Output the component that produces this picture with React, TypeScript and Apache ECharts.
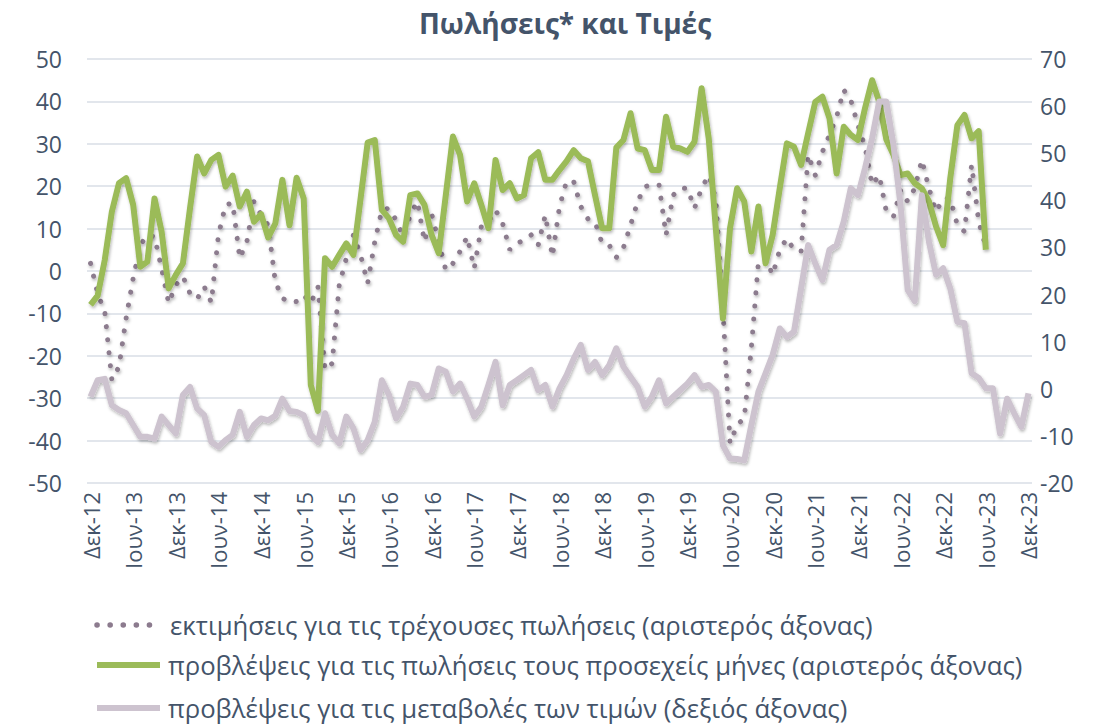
import React, { useEffect, useRef } from "react";
import * as echarts from "echarts";

const TITLE = "Πωλήσεις* και Τιμές";
const MONTHS = ["Ιαν", "Φεβ", "Μαρ", "Απρ", "Μαϊ", "Ιουν", "Ιουλ", "Αυγ", "Σεπ", "Οκτ", "Νοε", "Δεκ"];
const START_MONTH = 11; // Δεκ
const START_YEAR = 12; // 2012
const N_MONTHS = 133; // Δεκ-12 .. Δεκ-23

const NAME_EST = "εκτιμήσεις για τις τρέχουσες πωλήσεις (αριστερός άξονας)";
const NAME_SALES = "προβλέψεις για τις πωλήσεις τους προσεχείς μήνες (αριστερός άξονας)";
const NAME_PRICES = "προβλέψεις για τις μεταβολές των τιμών (δεξιός άξονας)";

// εκτιμήσεις για τις τρέχουσες πωλήσεις (left axis)
const estimates = [
  1.8, -5.3, -9.6, -25.7, -22.6, -11.2, -1.7, 6.1, 8.5, 8.1, 0.6, -7.6,
  -3.3, -1.3, -5.3, -6.6, -3.7, -7.4, 8.5, 15.6, 16, 3, 6.9, 16.4,
  13.2, 10.8, -2.5, -6.4, -7.4, -7.2, -5.7, -7.6, -3.7, -23.3, -21.8, -3.3,
  3, 8.5, 3.8, -2.9, 6.9, 14.4, 14.8, 12, 8.1, 13.2, 16.4, 6.9,
  13.5, 6.9, 0.2, 1.8, 4.6, 8.1, 0.6, 10.5, 11.6, 14.4, 11.2, 5,
  6.5, 7.3, 8.5, 6.1, 13.2, 3.4, 15.2, 21.2, 21.1, 15.2, 12.3, 11.6,
  6.5, 6.1, 3.2, 5.5, 10.8, 16.4, 19.9, 20.3, 20.4, 8.5, 17.9, 19.5,
  19.5, 14.8, 19.5, 22.6, 17, -9, -40.6, -36.3, -34.7, -18.2, 2.2, 3,
  -0.9, 5, 7.7, 5, 4.6, 27.4, 22.6, 28.1, 32.1, 36.4, 42.7, 40.3,
  34.4, 29.3, 20.3, 22.6, 14, 12.8, 19.1, 16.4, 19.5, 26.2, 19.5, 14,
  17.1, 17.1, 10.8, 9.3, 25, 11.6, 5.7,
];

// προβλέψεις για τις πωλήσεις τους προσεχείς μήνες (left axis)
const salesForecast = [
  -8, -5.8, 2.6, 14, 20.7, 21.9, 15.6, 1, 2.2, 17.1, 9.3, -4.1,
  -0.9, 1.8, 14.8, 27, 23, 26.2, 27.4, 19.9, 22.5, 15.2, 18.7, 11.6,
  13.4, 7.9, 11.2, 21.5, 10.8, 22, 17.1, -26.9, -33, 3, 1, 3.8,
  6.5, 3.8, 17, 30.3, 30.9, 14.4, 12.4, 8.5, 6.9, 17.9, 18.3, 15.6,
  8.5, 4.2, 17.9, 31.7, 27.4, 16.4, 20.7, 15.6, 10.1, 26.2, 19.1, 20.7,
  17.1, 17.9, 26.6, 28, 21.5, 21.5, 23.8, 25.9, 28.5, 26.6, 25.9, 17.9,
  10.1, 10.1, 29.1, 30.9, 37.2, 28.9, 28.5, 23.8, 23.8, 36.4, 29.3, 28.9,
  28.1, 30.5, 43.1, 31.3, 10.1, -11.2, 10.1, 19.5, 16.4, 4.6, 15.2, 1.8,
  8.5, 19.5, 30.1, 29.3, 25, 32.5, 39.9, 41.1, 36, 23, 34, 32.1,
  30.9, 38.4, 45, 39.9, 31, 27.4, 22.6, 23, 20.7, 19.5, 16.4, 10.5,
  6.1, 21.9, 34.4, 36.8, 31.3, 33, 5,
];

// προβλέψεις για τις μεταβολές των τιμών (right axis)
const priceForecast = [
  -1.7, 1.8, 2.1, -3.5, -4.5, -5.2, -7.7, -10.2, -10.2, -10.6, -5.9, -7.7,
  -9.5, -1.3, 0.4, -4.2, -5.6, -11.3, -12.3, -10.9, -9.8, -4.9, -10.2, -7.7,
  -6.3, -6.7, -5.7, -2.1, -4.7, -4.9, -5.6, -9.8, -11.3, -5.2, -9.8, -11.6,
  -5.9, -8.4, -13, -10.9, -7, 1.8, -1.3, -6.3, -3.8, 1.1, 0.8, -1.7,
  -1.3, 4.3, 3.6, -0.6, 1.1, -2.1, -5.9, -3.8, 0.8, 5.7, -3.5, 0.8,
  1.8, 2.9, 4, -0.3, 0.8, -3.8, 0.1, 2.9, 6.4, 9.3, 4, 5.7,
  2.9, 5, 8.6, 4.7, 2.5, 0.4, -3.8, -1.7, 1.8, -3.1, -1.7, -0.3,
  1.1, 2.9, 0.4, 0.8, -0.6, -12, -14.8, -14.9, -15.2, -7.7, -0.6, 3.3,
  7.2, 12.8, 11, 12.1, 21.3, 30.5, 26.6, 23.1, 29.5, 30.5, 35.5, 42.6,
  41.1, 46.8, 53.2, 61, 61, 51.8, 39, 21, 18.6, 41.1, 31.2, 24.2,
  25.6, 21.3, 14.2, 13.9, 3.3, 2.3, 0.1, 0.1, -9.5, -2.1, -5.2, -8.1,
  -1,
];

const categories: string[] = [];
for (let i = 0; i < N_MONTHS; i++) {
  const m = (START_MONTH + i) % 12;
  const y = START_YEAR + Math.floor((START_MONTH + i) / 12);
  categories.push(`${MONTHS[m]}-${y}`);
}

const TEXT = "#44546A";
const FONT = "Open Sans";
const C_EST = "#8C7B8E";
const C_SALES = "#9BBB59";
const C_PRICES = "#CDC3CF";
const DOT_DASH = [0.1, 13];

export default function App() {
  const ref = useRef<HTMLDivElement>(null);
  useEffect(() => {
    if (!ref.current) return;
    const chart = echarts.init(ref.current, undefined, { renderer: "svg" });
    const shadow = {
      shadowColor: "rgba(0,0,0,0.28)",
      shadowBlur: 3,
      shadowOffsetX: 1,
      shadowOffsetY: 2,
    };
    const legendItems = [
      { name: NAME_EST, color: C_EST, dash: DOT_DASH, width: 5.5, y: 625, tx: 170 },
      { name: NAME_SALES, color: C_SALES, dash: null, width: 6, y: 665, tx: 168 },
      { name: NAME_PRICES, color: C_PRICES, dash: null, width: 6, y: 708, tx: 168 },
    ];
    const graphic: any[] = [];
    legendItems.forEach((it) => {
      graphic.push({
        type: "line",
        shape: { x1: 97, y1: it.y, x2: it.dash ? 156 : 160, y2: it.y },
        style: {
          stroke: it.color,
          lineWidth: it.width,
          lineCap: it.dash ? "round" : "butt",
          lineDash: it.dash || undefined,
        },
      });
      graphic.push({
        type: "text",
        x: it.tx,
        y: it.y,
        style: {
          text: it.name,
          fontFamily: FONT,
          fontSize: 25.7,
          fill: TEXT,
          verticalAlign: "middle",
        },
      });
    });

    chart.setOption({
      animation: false,
      backgroundColor: "#ffffff",
      textStyle: { fontFamily: FONT },
      title: {
        text: TITLE,
        left: 414,
        top: 4,
        textStyle: { fontFamily: FONT, fontSize: 28, fontWeight: "bold", color: TEXT },
      },
      grid: { left: 87, right: 85, top: 59, bottom: 243, containLabel: false },
      graphic,
      xAxis: {
        type: "category",
        data: categories,
        boundaryGap: true,
        axisLine: { show: false },
        axisTick: { show: false },
        splitLine: { show: false },
        axisLabel: {
          interval: 5,
          rotate: 90,
          margin: 9,
          fontFamily: FONT,
          fontSize: 22,
          color: TEXT,
        },
      },
      yAxis: [
        {
          type: "value",
          min: -50,
          max: 50,
          interval: 10,
          axisLine: { show: false },
          axisTick: { show: false },
          axisLabel: { fontFamily: FONT, fontSize: 23, color: TEXT, margin: 25 },
          splitLine: { lineStyle: { color: "#D9DEE6", width: 1.5 } },
        },
        {
          type: "value",
          min: -20,
          max: 70,
          interval: 10,
          position: "right",
          axisLine: { show: false },
          axisTick: { show: false },
          axisLabel: { fontFamily: FONT, fontSize: 23, color: TEXT, margin: 8 },
          splitLine: { show: false },
        },
      ],
      series: [
        {
          name: NAME_EST,
          type: "line",
          yAxisIndex: 0,
          data: estimates,
          symbol: "none",
          showSymbol: false,
          itemStyle: { color: C_EST },
          lineStyle: { color: C_EST, width: 5, type: DOT_DASH, cap: "round", ...shadow },
        },
        {
          name: NAME_SALES,
          type: "line",
          yAxisIndex: 0,
          data: salesForecast,
          symbol: "none",
          showSymbol: false,
          itemStyle: { color: C_SALES },
          lineStyle: { color: C_SALES, width: 6, join: "round", ...shadow },
        },
        {
          name: NAME_PRICES,
          type: "line",
          yAxisIndex: 1,
          data: priceForecast,
          symbol: "none",
          showSymbol: false,
          itemStyle: { color: C_PRICES },
          lineStyle: { color: C_PRICES, width: 6, join: "round", ...shadow },
        },
      ],
    });
    return () => chart.dispose();
  }, []);
  return (
    <div
      ref={ref}
      style={{ position: "fixed", left: 0, top: 0, width: 1117, height: 726, background: "#fff" }}
    />
  );
}
